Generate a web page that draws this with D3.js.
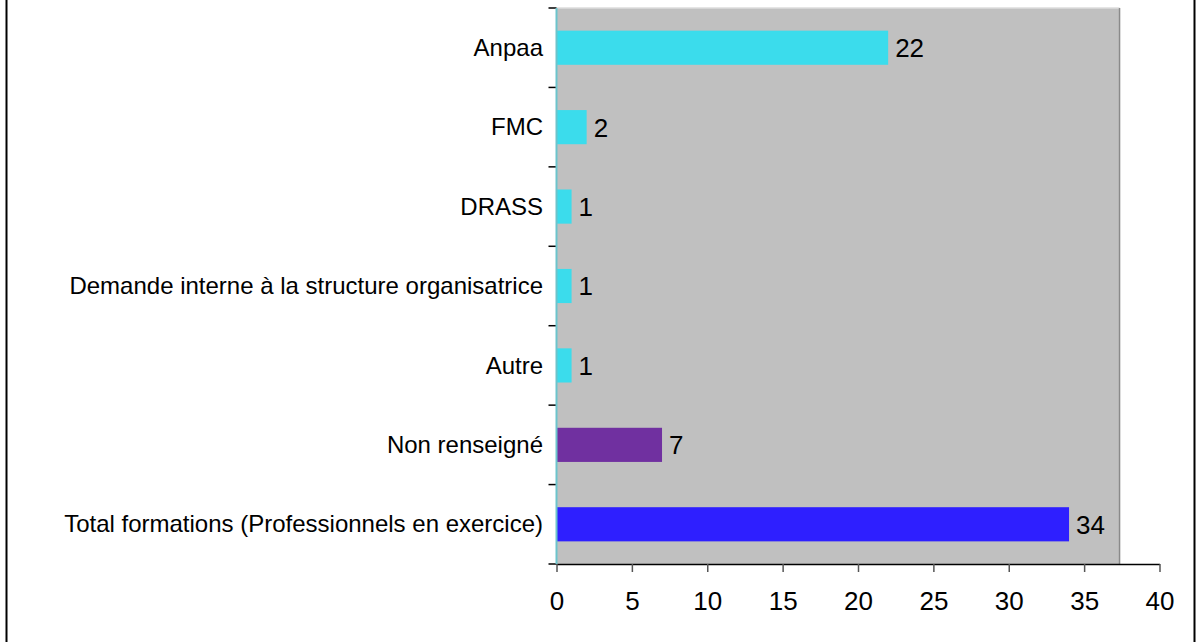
<!DOCTYPE html>
<html>
<head>
<meta charset="utf-8">
<script src="https://cdn.jsdelivr.net/npm/d3@7"></script>
<style>
  html, body { margin: 0; padding: 0; background: #fff; }
  svg { display: block; font-family: Arial, "Liberation Sans", sans-serif; }
</style>
</head>
<body>
<svg id="chart" width="1197" height="642"></svg>
<script>
// Chart data
const categories = [
    "Anpaa",
    "FMC",
    "DRASS",
    "Demande interne à la structure organisatrice",
    "Autre",
    "Non renseigné",
    "Total formations (Professionnels en exercice)"
];
const values = [22, 2, 1, 1, 1, 7, 34];
const barColors = ["#3bdcec", "#3bdcec", "#3bdcec", "#3bdcec", "#3bdcec", "#7030a0", "#2e1fff"];
const xTicks = [0, 5, 10, 15, 20, 25, 30, 35, 40];

const svg = d3.select("#chart");

// plot frame
const plotLeft = 556.5, plotTop = 8, plotBottom = 564;
const x = d3.scaleLinear().domain([0, 40]).range([plotLeft, 1159.5]);
const y = d3.scaleBand()
    .domain(categories)
    .range([plotTop, plotBottom])
    .paddingInner(0.57)
    .paddingOuter(0.285);

// outer border (left and right edges only)
svg.append("line").attr("x1", 6.5).attr("x2", 6.5).attr("y1", 0).attr("y2", 642)
    .attr("stroke", "#000").attr("stroke-width", 2);
svg.append("line").attr("x1", 1194.5).attr("x2", 1194.5).attr("y1", 0).attr("y2", 642)
    .attr("stroke", "#000").attr("stroke-width", 2);

// gray plot area
const plotRight = x(37.35);
svg.append("rect")
    .attr("x", plotLeft).attr("y", plotTop)
    .attr("width", plotRight - plotLeft).attr("height", plotBottom - plotTop)
    .attr("fill", "#c0c0c0");
svg.append("line").attr("x1", plotLeft).attr("x2", plotRight).attr("y1", plotTop).attr("y2", plotTop)
    .attr("stroke", "#dcdcdc").attr("stroke-width", 1.5);
svg.append("line").attr("x1", plotRight).attr("x2", plotRight).attr("y1", plotTop).attr("y2", plotBottom)
    .attr("stroke", "#8a8a8a").attr("stroke-width", 1.5);

// bars
svg.append("g")
    .selectAll("rect")
    .data(values)
    .join("rect")
    .attr("x", x(0))
    .attr("y", (d, i) => y(categories[i]))
    .attr("width", d => x(d) - x(0))
    .attr("height", y.bandwidth())
    .attr("fill", (d, i) => barColors[i]);

// value labels
svg.append("g")
    .selectAll("text")
    .data(values)
    .join("text")
    .attr("x", d => x(d) + 7)
    .attr("y", (d, i) => y(categories[i]) + y.bandwidth() / 2)
    .attr("dy", "0.36em")
    .attr("font-size", 26)
    .attr("fill", "#000")
    .text(d => d);

// x axis
const xAxis = svg.append("g")
    .attr("transform", `translate(0,${plotBottom})`)
    .call(d3.axisBottom(x).tickValues(xTicks).tickSize(8).tickSizeOuter(0).tickPadding(20));
xAxis.select(".domain").attr("stroke", "#000").attr("stroke-width", 1.5);
xAxis.selectAll(".tick line").attr("stroke", "#555").attr("stroke-width", 1.5);
xAxis.selectAll(".tick text")
    .attr("font-size", 26)
    .attr("font-family", "Arial, 'Liberation Sans', sans-serif")
    .attr("fill", "#000");

// y axis: ticks at band boundaries
const bounds = d3.range(categories.length + 1).map(i => plotTop + i * y.step());
svg.append("g")
    .selectAll("line")
    .data(bounds)
    .join("line")
    .attr("x1", plotLeft - 8).attr("x2", plotLeft)
    .attr("y1", d => d).attr("y2", d => d)
    .attr("stroke", "#000").attr("stroke-width", 1.5);
svg.append("line")
    .attr("x1", plotLeft).attr("x2", plotLeft)
    .attr("y1", plotTop).attr("y2", plotBottom)
    .attr("stroke", "#6cc4cc").attr("stroke-width", 2);

// category labels
svg.append("g")
    .selectAll("text")
    .data(categories)
    .join("text")
    .attr("x", 543)
    .attr("y", d => y(d) + y.bandwidth() / 2)
    .attr("dy", "0.34em")
    .attr("text-anchor", "end")
    .attr("font-size", 24)
    .attr("fill", "#000")
    .text(d => d);
</script>
</body>
</html>
